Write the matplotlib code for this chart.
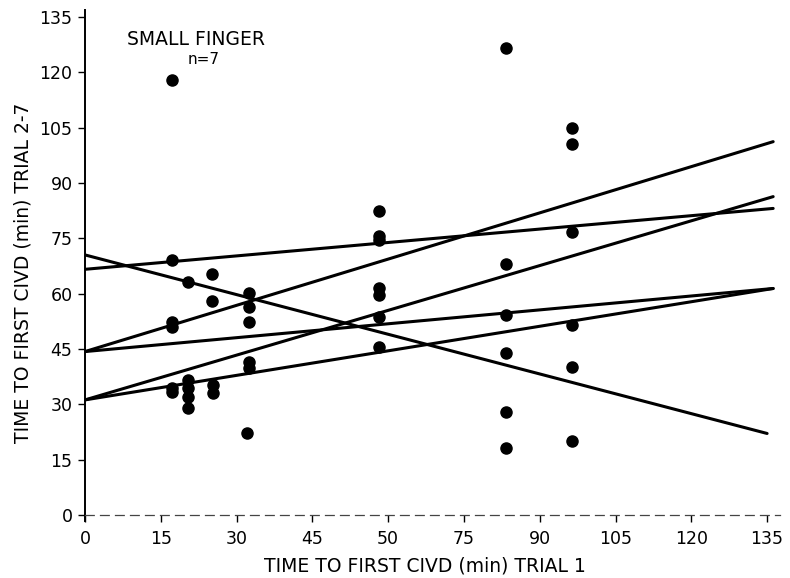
import matplotlib
matplotlib.use("Agg")
import matplotlib.pyplot as plt
import numpy as np

# Time to first CIVD (min): trial 1 vs. trials 2-7, small finger
trial1 = [17.2, 17.2, 17.2, 17.2, 17.2, 17.2,
          20.3, 20.3, 20.3, 20.3, 20.3,
          25.1, 25.1, 25.3, 25.3,
          32.5, 32.5, 32.5, 32.5, 32.5, 32.0,
          58.2, 58.2, 58.2, 58.2, 58.2, 58.2, 58.2,
          83.3, 83.3, 83.3, 83.3, 83.3, 83.3,
          96.3, 96.3, 96.3, 96.3, 96.3, 96.3]
trials2_7 = [117.9, 69.1, 52.4, 51.0, 34.4, 33.3,
             63.1, 36.6, 34.3, 32.1, 28.9,
             65.2, 58.1, 35.2, 33.0,
             60.3, 56.5, 52.4, 41.6, 39.8, 22.3,
             82.5, 75.6, 74.6, 61.4, 59.6, 53.8, 45.6,
             126.7, 68.0, 54.2, 44.0, 28.0, 18.1,
             104.8, 100.6, 76.8, 51.5, 40.0, 20.1]

# Individual regression lines: value at x=0 and at the line's right end
line_start = [70.5, 66.6, 44.3, 44.3, 31.2, 31.2]
line_end = [22.1, 83.1, 101.2, 61.4, 86.3, 61.4]
line_end_x = [135.0, 136.2, 136.2, 136.2, 136.2, 136.2]

x_ticks = [0, 15, 30, 45, 60, 75, 90, 105, 120, 135]
x_tick_labels = ["0", "15", "30", "45", "50", "75", "90", "105", "120", "135"]
y_ticks = [0, 15, 30, 45, 60, 75, 90, 105, 120, 135]

plt.rcParams["font.family"] = ["DejaVu Sans"]

fig = plt.figure(figsize=(7.9, 5.78), dpi=100)
ax = fig.add_axes([0.1076, 0.109, 0.8794, 0.8744])

for y0, y1, xe in zip(line_start, line_end, line_end_x):
    ax.plot([0, xe], [y0, y1], color="black", lw=2.2, solid_capstyle="round")

ax.plot(trial1, trials2_7, "o", color="black", markersize=8, zorder=3)

ax.set_xlim(0, 137.5)
ax.set_ylim(0, 137)

ax.set_xticks(x_ticks)
ax.set_xticklabels(x_tick_labels)
ax.set_yticks(y_ticks)

for side in ["top", "right"]:
    ax.spines[side].set_visible(False)
ax.spines["left"].set_linewidth(1.4)
ax.spines["left"].set_bounds(-1.5, 137)
ax.spines["bottom"].set_linewidth(0.9)
ax.spines["bottom"].set_linestyle((0, (7, 5)))
ax.spines["bottom"].set_color("#444444")

ax.tick_params(axis="both", direction="out", length=5, width=1.0,
               labelsize=12.5, pad=4)
ax.tick_params(axis="x", pad=6)

ax.set_xlabel("TIME TO FIRST CIVD (min) TRIAL 1", fontsize=13.5)
ax.set_ylabel("TIME TO FIRST CIVD (min) TRIAL 2-7", fontsize=13.5)
ax.xaxis.set_label_coords(0.489, -0.083)
ax.yaxis.set_label_coords(-0.075, 0.48)

ax.text(22, 128.8, "SMALL FINGER", fontsize=13.5, ha="center", va="center")
ax.text(23.4, 123.6, "n=7", fontsize=11, ha="center", va="center")

fig.savefig("out.png", dpi=100)
